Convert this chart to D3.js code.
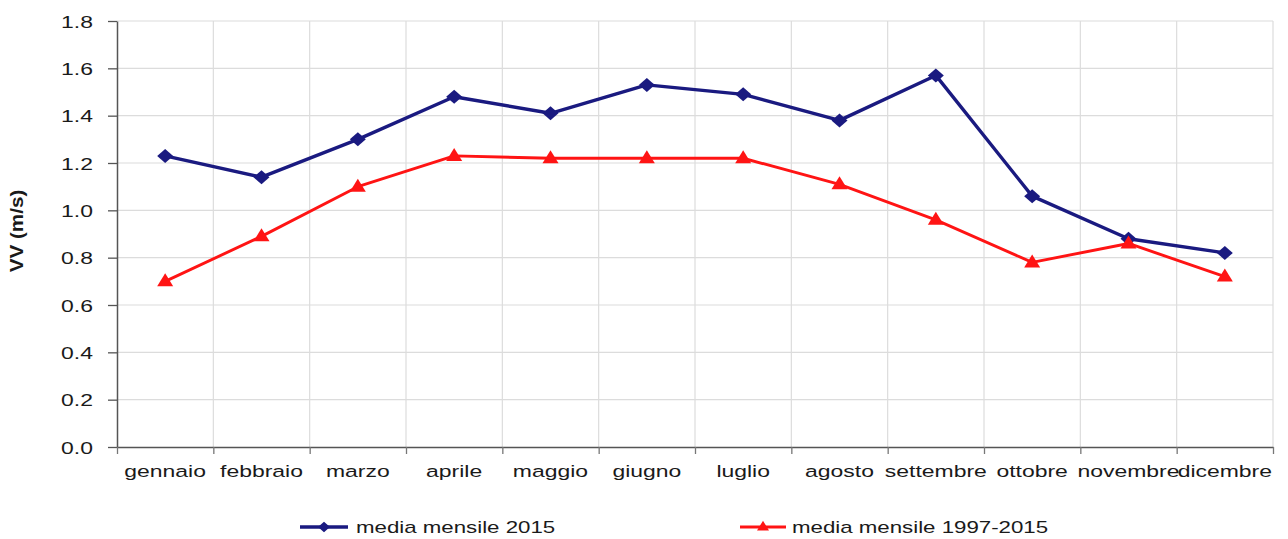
<!DOCTYPE html>
<html>
<head>
<meta charset="utf-8">
<script src="https://cdn.jsdelivr.net/npm/d3@7"></script>
<style>
  html, body { margin: 0; padding: 0; background: #fff; }
  svg { display: block; }
  text { font-family: "Liberation Sans", Arial, sans-serif; fill: #1a1a1a; }
</style>
</head>
<body>
<svg id="chart" width="1288" height="539"></svg>
<script>
// Monthly mean wind speed (m/s)
const months = ["gennaio", "febbraio", "marzo", "aprile", "maggio", "giugno",
                "luglio", "agosto", "settembre", "ottobre", "novembre", "dicembre"];
const values2015 = [1.23, 1.14, 1.30, 1.48, 1.41, 1.53, 1.49, 1.38, 1.57, 1.06, 0.88, 0.82];
const values1997_2015 = [0.70, 0.89, 1.10, 1.23, 1.22, 1.22, 1.22, 1.11, 0.96, 0.78, 0.86, 0.72];
const yTicks = [0, 0.2, 0.4, 0.6, 0.8, 1.0, 1.2, 1.4, 1.6, 1.8];
const seriesNames = ["media mensile 2015", "media mensile 1997-2015"];

const series = [
  { name: seriesNames[0], values: values2015, color: "#1a1a80", width: 3.4, marker: "diamond" },
  { name: seriesNames[1], values: values1997_2015, color: "#ff1414", width: 2.9, marker: "triangle" }
];

const svg = d3.select("#chart");
const plot = { left: 117, right: 1273, top: 21, bottom: 447 };
const SX = 1.35;          // horizontal text stretch
const FS = 17;            // label font size

const x = d3.scaleBand().domain(months).range([plot.left, plot.right]).padding(0);
const y = d3.scaleLinear().domain([0, 1.8]).range([plot.bottom, plot.top]);
const cx = m => x(m) + x.bandwidth() / 2;

// boundaries between months
const bounds = months.map(m => x(m)).concat([plot.right]);

// grid
const grid = svg.append("g");
grid.selectAll("line.h").data(yTicks.filter(t => t > 0)).join("line")
  .attr("x1", plot.left).attr("x2", plot.right)
  .attr("y1", d => y(d)).attr("y2", d => y(d))
  .attr("stroke", "#dcdcdc").attr("stroke-width", 1.2);
grid.selectAll("line.v").data(bounds.slice(1)).join("line")
  .attr("x1", d => d).attr("x2", d => d)
  .attr("y1", plot.top).attr("y2", plot.bottom)
  .attr("stroke", "#dcdcdc").attr("stroke-width", 1.2);

// y axis
const yAxis = svg.append("g")
  .attr("transform", `translate(${plot.left},0)`)
  .call(d3.axisLeft(y).tickValues(yTicks).tickFormat(d3.format(".1f")).tickSize(9).tickSizeOuter(0));
yAxis.select(".domain").attr("stroke", "#555").attr("stroke-width", 1.5);
yAxis.selectAll(".tick line").attr("stroke", "#555").attr("stroke-width", 1.3);
yAxis.selectAll(".tick text")
  .attr("font-size", FS).attr("font-family", null)
  .attr("x", -24 / SX).attr("dy", "0.36em")
  .attr("transform", `scale(${SX},1)`)
  .style("fill", "#1a1a1a");

// x axis: ticks on month boundaries
const xBound = d3.scaleLinear().domain([plot.left, plot.right]).range([plot.left, plot.right]);
const xAxisTicks = svg.append("g")
  .attr("transform", `translate(0,${plot.bottom})`)
  .call(d3.axisBottom(xBound).tickValues(bounds).tickSize(7).tickSizeOuter(0).tickFormat(""));
xAxisTicks.select(".domain").attr("stroke", "#555").attr("stroke-width", 1.5);
xAxisTicks.selectAll(".tick line").attr("stroke", "#777").attr("stroke-width", 1.3);

// x axis labels centred in each month
const xAxisLabels = svg.append("g")
  .attr("transform", `translate(0,${plot.bottom})`)
  .call(d3.axisBottom(x).tickSize(0));
xAxisLabels.select(".domain").remove();
xAxisLabels.selectAll(".tick text")
  .attr("font-size", FS).attr("font-family", null)
  .attr("y", 30).attr("dy", 0)
  .attr("transform", `scale(${SX},1)`)
  .each(function () {
    // compensate the scale so the label stays centred on its tick
    const g = d3.select(this.parentNode);
    const t = g.attr("transform");
    const tx = +t.match(/translate\(([-\d.]+)/)[1];
    g.attr("transform", `translate(0,0)`);
    d3.select(this).attr("x", tx / SX);
  })
  .style("fill", "#1a1a1a");

// y axis title
svg.append("text")
  .attr("transform", `translate(17,231) rotate(-90) scale(1.15,1)`)
  .attr("text-anchor", "middle")
  .attr("dy", "0.36em")
  .attr("font-size", 18).attr("font-weight", "bold")
  .text("VV (m/s)");

// markers
function markerPath(type) {
  if (type === "diamond") return "M0,-7 L8,0 L0,7 L-8,0 Z";
  return "M0,-7 L8,6 L-8,6 Z";
}

const line = d3.line().x(d => cx(d.m)).y(d => y(d.v));

series.forEach(s => {
  const pts = months.map((m, i) => ({ m, v: s.values[i] }));
  svg.append("path").datum(pts)
    .attr("d", line)
    .attr("fill", "none").attr("stroke", s.color)
    .attr("stroke-width", s.width).attr("stroke-linejoin", "round");
  svg.append("g").selectAll("path").data(pts).join("path")
    .attr("transform", d => `translate(${cx(d.m)},${y(d.v) + (s.marker === "triangle" ? -1 : 0)})`)
    .attr("d", markerPath(s.marker))
    .attr("fill", s.color);
});

// legend
const legendItems = [
  { s: series[0], x0: 300, x1: 348, tx: 356 },
  { s: series[1], x0: 740, x1: 786, tx: 792 }
];
const ly = 527;
legendItems.forEach(it => {
  const g = svg.append("g");
  g.append("line")
    .attr("x1", it.x0).attr("x2", it.x1).attr("y1", ly).attr("y2", ly)
    .attr("stroke", it.s.color).attr("stroke-width", it.s.width);
  g.append("path")
    .attr("transform", `translate(${(it.x0 + it.x1) / 2},${ly + (it.s.marker === "triangle" ? -1 : 0)}) scale(0.75)`)
    .attr("d", markerPath(it.s.marker))
    .attr("fill", it.s.color);
  g.append("text")
    .attr("transform", `translate(${it.tx},${ly}) scale(1.31,1)`)
    .attr("dy", "0.36em")
    .attr("font-size", FS)
    .text(it.s.name);
});
</script>
</body>
</html>
